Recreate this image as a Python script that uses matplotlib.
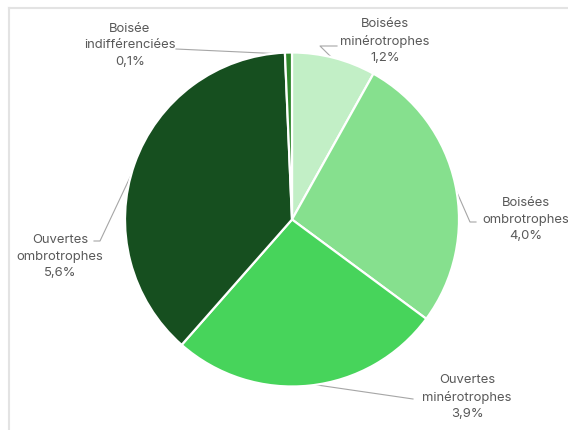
import numpy as np
import matplotlib
matplotlib.use("Agg")
import matplotlib.pyplot as plt
from matplotlib.lines import Line2D

labels = ["Boisées\nminérotrophes", "Boisées\nombrotrophes", "Ouvertes\nminérotrophes",
          "Ouvertes\nombrotrophes", "Boisée\nindifférenciées"]
values = [1.2, 4.0, 3.9, 5.6, 0.1]
value_text = ["1,2%", "4,0%", "3,9%", "5,6%", "0,1%"]
colors = ["#c2efc6", "#86e08e", "#47d45b", "#164f1f", "#2f862c"]

W, H = 568, 431
CX, CY, R = 292, 220.5, 167

fig = plt.figure(figsize=(W / 100, H / 100), dpi=100)
ax = fig.add_axes([0, 0, 1, 1])
ax.axis("off")

def px(x, y):
    return ((x - CX) / R, (CY - y) / R)

wedges, _ = ax.pie(values, colors=colors, startangle=90, counterclock=False, radius=1,
                   wedgeprops=dict(edgecolor="white", linewidth=1.6), center=(0, 0), frame=False)
ax.set_xlim(-CX / R, (W - CX) / R)
ax.set_ylim((CY - H) / R, CY / R)
ax.set_aspect("auto")

# label layout (pixel positions of text centres, and leader-line elbows)
label_pos = [(385, 41), (526, 220), (467, 397), (60, 257), (130, 45)]
elbows = [[(320, 47), (337, 47)],
          [(470, 223), (476, 223)],
          [(413, 400)],
          [(100, 242), (94, 242)],
          [(176, 50)]]

for w, lab, vt, pos, elb in zip(wedges, labels, value_text, label_pos, elbows):
    ang = np.deg2rad((w.theta1 + w.theta2) / 2)
    start = (np.cos(ang) * 0.99, np.sin(ang) * 0.99)
    pts = [start] + [px(*e) for e in elb]
    xs = [p[0] for p in pts]
    ys = [p[1] for p in pts]
    ax.plot(xs, ys, color="#a6a6a6", lw=0.8, zorder=0.5)
    tx, ty = px(*pos)
    ax.text(tx, ty, lab + "\n" + vt, ha="center", va="center", fontsize=9.4,
            family="Inter", color="#595959", linespacing=1.5)

fig.add_artist(Line2D([8.5 / W, 8.5 / W], [0, 1 - 9 / H], transform=fig.transFigure,
                      color="#e3e3e3", lw=1.5))
fig.add_artist(Line2D([8.5 / W, 1], [1 - 9 / H, 1 - 9 / H], transform=fig.transFigure,
                      color="#e3e3e3", lw=1.5))

fig.savefig("out.png", dpi=100, facecolor="white")
